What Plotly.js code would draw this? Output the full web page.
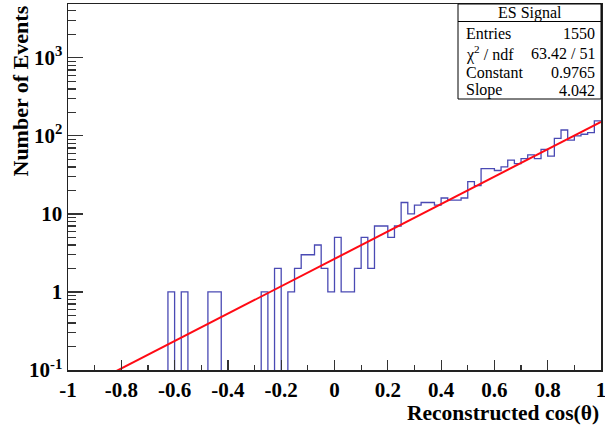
<!DOCTYPE html>
<html><head><meta charset="utf-8">
<script src="https://cdn.plot.ly/plotly-3.0.1.min.js"></script>
<style>html,body{margin:0;padding:0;background:#fff}</style>
</head><body><div id="chart" style="width:605px;height:426px"></div>
<script>
// Histogram bin edges (80 bins of width 0.025 from -1 to 1)
const binEdges = [
-1.000,-0.975,-0.950,-0.925,-0.900,-0.875,-0.850,-0.825,-0.800,-0.775,
-0.750,-0.725,-0.700,-0.675,-0.650,-0.625,-0.600,-0.575,-0.550,-0.525,
-0.500,-0.475,-0.450,-0.425,-0.400,-0.375,-0.350,-0.325,-0.300,-0.275,
-0.250,-0.225,-0.200,-0.175,-0.150,-0.125,-0.100,-0.075,-0.050,-0.025,
 0.000, 0.025, 0.050, 0.075, 0.100, 0.125, 0.150, 0.175, 0.200, 0.225,
 0.250, 0.275, 0.300, 0.325, 0.350, 0.375, 0.400, 0.425, 0.450, 0.475,
 0.500, 0.525, 0.550, 0.575, 0.600, 0.625, 0.650, 0.675, 0.700, 0.725,
 0.750, 0.775, 0.800, 0.825, 0.850, 0.875, 0.900, 0.925, 0.950, 0.975,
 1.000];

// Bin contents
const counts = [
0,0,0,0,0, 0,0,0,0,0, 0,0,0,0,0,
1,0,1,0,0, 0,1,1,0,0, 0,0,0,0,1,
0,2,0,1,2, 3,3,4,2,1,
5,1,1,2,5, 2,7,7,5,7,
14,10,13,14,14, 13,16,15,15,16,
26,23,38,38,36, 40,49,44,51,57,
51,67,55,93,119, 88,100,105,110,156
];

// Stats box
const statsTitle = "ES Signal";
const statsLabels = ["Entries", "\u03c7<sup>2</sup> / ndf", "Constant", "Slope"];
const statsValues = ["1550", "63.42 / 51", "0.9765", "4.042"];
const fitConstant = 0.9765;
const fitSlope = 4.042;

// Axis ticks
const xTickVals = [-1,-0.8,-0.6,-0.4,-0.2,0,0.2,0.4,0.6,0.8,1];
const xTickText = ["-1","-0.8","-0.6","-0.4","-0.2","0","0.2","0.4","0.6","0.8","1"];
const yTickVals = [0.1,1,10,100,1000];
const yTickText = ["10<sup>-1</sup>","1","10","10<sup>2</sup>","10<sup>3</sup>"];

const xTitle = "Reconstructed cos(\u03b8)";
const yTitle = "Number of Events";

// ---- build traces ----
const FLOOR = 1e-3; // empty bins drawn down to (below) the frame bottom, as ROOT does
const stepY = counts.map(c => c > 0 ? c : FLOOR);
stepY.push(stepY[stepY.length - 1]);

const fitX = binEdges.slice();
const fitY = fitX.map(x => Math.exp(fitConstant + fitSlope * x));

const yMinor = [];
[0.1, 1, 10, 100, 1000].forEach(d => { for (let k = 2; k <= 9; k++) yMinor.push(d * k); });

const serif = "Liberation Serif, Times New Roman, serif";

const traces = [
  {x: binEdges, y: stepY, type: "scatter", mode: "lines",
   line: {shape: "hv", color: "#4a4ab4", width: 1.3}, hoverinfo: "skip"},
  {x: fitX, y: fitY, type: "scatter", mode: "lines",
   line: {color: "#ff0a14", width: 2}, hoverinfo: "skip"}
];

const L = 68, R = 601, T = 4, B = 370;
const px = v => (v - L) / (R - L);
const py = v => (B - v) / (B - T);

const annotations = [
  {text: statsTitle, xref: "paper", yref: "paper", x: (px(458) + 1) / 2, y: py(13),
   xanchor: "center", yanchor: "middle", showarrow: false, font: {family: serif, size: 16, color: "#000"}}
];
const rowY = [34, 53, 72, 90];
statsLabels.forEach((lab, i) => {
  annotations.push({text: lab, xref: "paper", yref: "paper", x: px(464), y: py(rowY[i]),
    xanchor: "left", yanchor: "middle", showarrow: false, font: {family: serif, size: 16, color: "#000"}});
  annotations.push({text: statsValues[i], xref: "paper", yref: "paper", x: px(597), y: py(rowY[i]),
    xanchor: "right", yanchor: "middle", showarrow: false, font: {family: serif, size: 16, color: "#000"}});
});
annotations.push({text: "<b>" + xTitle + "</b>", xref: "paper", yref: "paper", x: 1, y: py(413),
  xanchor: "right", yanchor: "middle", showarrow: false, font: {family: serif, size: 21.5, color: "#000"}});
annotations.push({text: "<b>" + yTitle + "</b>", xref: "paper", yref: "paper", x: px(20), y: 1,
  xanchor: "center", yanchor: "top", textangle: -90, showarrow: false, font: {family: serif, size: 22, color: "#000"}});

const layout = {
  width: 605, height: 426,
  margin: {l: L, r: 605 - R, t: T, b: 426 - B, pad: 0},
  paper_bgcolor: "#fff", plot_bgcolor: "#fff",
  showlegend: false,
  xaxis: {
    range: [-1, 1], showgrid: false, zeroline: false,
    showline: true, linecolor: "#222", linewidth: 1.5, mirror: true,
    ticks: "inside", ticklen: 10, tickwidth: 1.2, tickcolor: "#333",
    tickmode: "array", tickvals: xTickVals, ticktext: xTickText,
    ticklabeloverflow: "allow",
    minor: {dtick: 0.1, tick0: 0, ticks: "inside", ticklen: 5, tickwidth: 1.2, tickcolor: "#333"},
    tickfont: {family: serif, size: 21, color: "#000", weight: "bold"}
  },
  yaxis: {
    type: "log", range: [-1, 3.69], showgrid: false, zeroline: false,
    showline: true, linecolor: "#222", linewidth: 1.5, mirror: true,
    ticks: "inside", ticklen: 15, tickwidth: 1.2, tickcolor: "#333",
    tickmode: "array", tickvals: yTickVals, ticktext: yTickText,
    ticklabeloverflow: "allow",
    minor: {tickmode: "array", tickvals: yMinor, ticks: "inside", ticklen: 8, tickwidth: 1.2, tickcolor: "#333"},
    tickfont: {family: serif, size: 21, color: "#000", weight: "bold"}
  },
  shapes: [
    {type: "rect", xref: "paper", yref: "paper", x0: px(458), x1: 1.0, y0: py(99), y1: 1,
     line: {color: "#000", width: 1}, fillcolor: "#fff", layer: "above"},
    {type: "line", xref: "paper", yref: "paper", x0: px(458), x1: 1.0, y0: py(21.5), y1: py(21.5),
     line: {color: "#000", width: 1}, layer: "above"}
  ],
  annotations: annotations
};

Plotly.newPlot("chart", traces, layout, {staticPlot: true, displayModeBar: false});
</script>
</body></html>
